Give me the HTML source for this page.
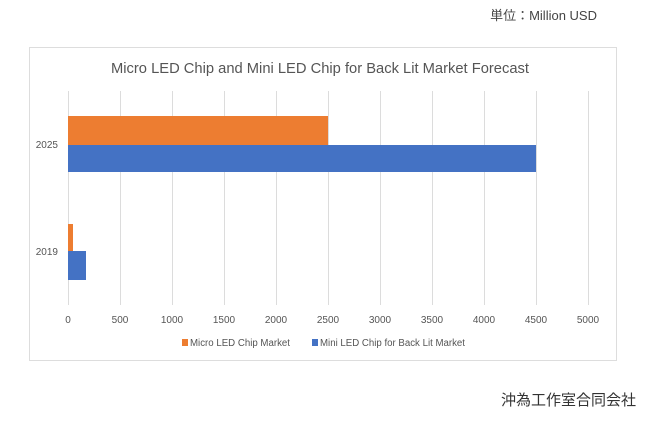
<!DOCTYPE html>
<html><head><meta charset="utf-8"><style>
body{margin:0;background:#fff;width:650px;height:421px;overflow:hidden;font-family:"Liberation Sans","Noto Sans CJK JP",sans-serif}
</style></head><body>
<svg width="650" height="421" xmlns="http://www.w3.org/2000/svg" font-family="Liberation Sans, Noto Sans CJK JP, sans-serif">
<text x="597" y="20" font-size="13" fill="#444" text-anchor="end">単位：Million USD</text>
<rect x="29.5" y="47.5" width="587" height="313" fill="#fff" stroke="#ddd"/>
<text x="320" y="73" font-size="14.5" fill="#555" text-anchor="middle" textLength="418" lengthAdjust="spacingAndGlyphs">Micro LED Chip and Mini LED Chip for Back Lit Market Forecast</text>
<g stroke="#dcdcdc" stroke-width="1">
<line x1="68.5" y1="91" x2="68.5" y2="305"/><line x1="120.5" y1="91" x2="120.5" y2="305"/><line x1="172.5" y1="91" x2="172.5" y2="305"/><line x1="224.5" y1="91" x2="224.5" y2="305"/><line x1="276.5" y1="91" x2="276.5" y2="305"/><line x1="328.5" y1="91" x2="328.5" y2="305"/><line x1="380.5" y1="91" x2="380.5" y2="305"/><line x1="432.5" y1="91" x2="432.5" y2="305"/><line x1="484.5" y1="91" x2="484.5" y2="305"/><line x1="536.5" y1="91" x2="536.5" y2="305"/><line x1="588.5" y1="91" x2="588.5" y2="305"/>
</g>
<rect x="68" y="116" width="260" height="29" fill="#ed7d31"/>
<rect x="68" y="145" width="468" height="27" fill="#4472c4"/>
<rect x="68" y="224" width="5" height="27" fill="#ed7d31"/>
<rect x="68" y="251" width="18" height="29" fill="#4472c4"/>
<g font-size="10" fill="#555" text-anchor="end">
<text x="58" y="148">2025</text><text x="58" y="255">2019</text>
</g>
<g font-size="10" fill="#555" text-anchor="middle">
<text x="68" y="323">0</text><text x="120" y="323">500</text><text x="172" y="323">1000</text><text x="224" y="323">1500</text><text x="276" y="323">2000</text><text x="328" y="323">2500</text><text x="380" y="323">3000</text><text x="432" y="323">3500</text><text x="484" y="323">4000</text><text x="536" y="323">4500</text><text x="588" y="323">5000</text>
</g>
<rect x="182" y="339" width="6" height="7" fill="#ed7d31"/>
<text x="190" y="346" font-size="10" fill="#555" textLength="100" lengthAdjust="spacingAndGlyphs">Micro LED Chip Market</text>
<rect x="312" y="339" width="6" height="7" fill="#4472c4"/>
<text x="320" y="346" font-size="10" fill="#555" textLength="145" lengthAdjust="spacingAndGlyphs">Mini LED Chip for Back Lit Market</text>
<text x="636" y="405" font-size="15" fill="#333" text-anchor="end">沖為工作室合同会社</text>
</svg>
</body></html>
